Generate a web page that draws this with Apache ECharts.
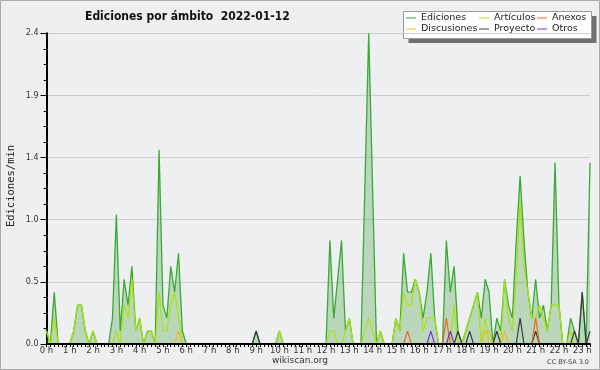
<!DOCTYPE html>
<html>
<head>
<meta charset="utf-8">
<script src="https://cdn.jsdelivr.net/npm/echarts@6/dist/echarts.min.js"></script>
<style>
html,body{margin:0;padding:0;background:#eeeff0;}
#main_chart{width:600px;height:370px;}
</style>
</head>
<body>
<div id="main_chart"></div>
<script>
// ediciones por minuto, tramos de 10 minutos (00:00 - 23:20)
var slotTimes = [];
for (var h = 0; h < 24; h++) {
    for (var m = 0; m < 60; m += 10) {
        if (slotTimes.length < 141) slotTimes.push(h + ':' + (m < 10 ? '0' + m : m));
    }
}
var hourLabels = ['0 h','1 h','2 h','3 h','4 h','5 h','6 h','7 h','8 h','9 h','10 h','11 h',
                  '12 h','13 h','14 h','15 h','16 h','17 h','18 h','19 h','20 h','21 h','22 h','23 h'];

var edicionesMin = [
    0.1,0,0.4,0,0,0,
    0,0.1,0.3,0.3,0.1,0,
    0.1,0,0,0,0,0.2,
    1.0,0.1,0.5,0.3,0.6,0.1,
    0.2,0,0.1,0.1,0,1.5,
    0.3,0.2,0.6,0.4,0.7,0.1,
    0,0,0,0,0,0,
    0,0,0,0,0,0,
    0,0,0,0,0,0,
    0.1,0,0,0,0,0,
    0.1,0,0,0,0,0,
    0,0,0,0,0,0,
    0,0.8,0.2,0.5,0.8,0.1,
    0.2,0,0,0,1.2,2.4,
    1.2,0,0.1,0,0,0,
    0.2,0.1,0.7,0.4,0.4,0.5,
    0.4,0.2,0.4,0.7,0.2,0,
    0,0.8,0.4,0.6,0.1,0,
    0.1,0.2,0.3,0.4,0.2,0.5,
    0.4,0,0.2,0.1,0.5,0.3,
    0.2,0.8,1.3,0.8,0.4,0.2,
    0.5,0.2,0.3,0.1,0.3,1.4,
    0.3,0,0,0.2,0.1,0,
    0.4,0,1.4
];
var articulosMin = [
    0.1,0,0.2,0,0,0,
    0,0.1,0.3,0.3,0.1,0,
    0.1,0,0,0,0,0,
    0.1,0,0.3,0.2,0.5,0.1,
    0.2,0,0.1,0.1,0,0.4,
    0.1,0.1,0.3,0.4,0.2,0,
    0,0,0,0,0,0,
    0,0,0,0,0,0,
    0,0,0,0,0,0,
    0,0,0,0,0,0,
    0.1,0,0,0,0,0,
    0,0,0,0,0,0,
    0,0.1,0.1,0,0,0.1,
    0.2,0,0,0,0.1,0.2,
    0.1,0,0.1,0,0,0,
    0.2,0.1,0.4,0.3,0.3,0.5,
    0.4,0.1,0.2,0.2,0.2,0,
    0,0,0,0.3,0,0,
    0.1,0.2,0.3,0.4,0,0.2,
    0,0,0,0,0.5,0.2,
    0.1,0.5,1.1,0.6,0.4,0.2,
    0.2,0.3,0.2,0.1,0.3,0.3,
    0.3,0,0,0.1,0,0,
    0,0,0
];
var anexosMin = [
    0,0,0,0,0,0, 0,0,0,0,0,0, 0,0,0,0,0,0, 0,0,0,0,0,0,
    0,0,0,0,0,0, 0,0,0,0,0,0, 0,0,0,0,0,0, 0,0,0,0,0,0,
    0,0,0,0,0,0, 0,0,0,0,0,0, 0,0,0,0,0,0, 0,0,0,0,0,0,
    0,0,0,0,0,0, 0,0,0,0,0,0, 0,0,0,0,0,0,
    0,0,0,0.1,0,0,
    0,0,0,0,0,0,
    0,0.2,0,0,0,0,
    0,0,0,0,0,0,
    0,0,0,0,0,0,
    0,0,0,0,0,0,
    0.2,0,0,0,0,0,
    0,0,0,0,0,0,
    0,0,0
];
var discusionesMin = [
    0,0,0,0,0,0, 0,0,0,0,0,0, 0,0,0,0,0,0, 0,0,0,0,0,0,
    0,0,0,0,0,0,
    0,0,0,0,0.1,0,
    0,0,0,0,0,0, 0,0,0,0,0,0, 0,0,0,0,0,0, 0,0,0,0,0,0,
    0,0,0,0,0,0, 0,0,0,0,0,0, 0,0,0,0,0,0, 0,0,0,0,0,0,
    0,0,0,0,0,0, 0,0,0,0,0,0, 0,0,0,0,0,0, 0,0,0,0,0,0,
    0,0,0,0,0,0.1,
    0.1,0,0,0,0.1,0,
    0,0,0,0,0,0,
    0,0,0,0,0,0,
    0,0,0
];
var proyectoMin = [
    0,0,0,0,0,0, 0,0,0,0,0,0, 0,0,0,0,0,0, 0,0,0,0,0,0,
    0,0,0,0,0,0, 0,0,0,0,0,0, 0,0,0,0,0,0, 0,0,0,0,0,0,
    0,0,0,0,0,0,
    0.1,0,0,0,0,0,
    0,0,0,0,0,0, 0,0,0,0,0,0, 0,0,0,0,0,0, 0,0,0,0,0,0,
    0,0,0,0,0,0, 0,0,0,0,0,0, 0,0,0,0,0,0,
    0,0,0,0,0.1,0,
    0,0.1,0,0,0,0,
    0,0,0.1,0,0,0,
    0,0,0.2,0,0,0,
    0.1,0,0,0,0,0,
    0,0,0,0,0.1,0,
    0.4,0,0.1
];
var otrosMin = [
    0,0,0,0,0,0, 0,0,0,0,0,0, 0,0,0,0,0,0, 0,0,0,0,0,0,
    0,0,0,0,0,0, 0,0,0,0,0,0, 0,0,0,0,0,0, 0,0,0,0,0,0,
    0,0,0,0,0,0, 0,0,0,0,0,0, 0,0,0,0,0,0, 0,0,0,0,0,0,
    0,0,0,0,0,0, 0,0,0,0,0,0, 0,0,0,0,0,0, 0,0,0,0,0,0,
    0,0,0,0.1,0,0,
    0,0,0.1,0,0,0,
    0,0,0,0,0,0, 0,0,0,0,0,0, 0,0,0,0,0,0, 0,0,0,0,0,0,
    0,0,0,0,0,0,
    0,0,0
];

var font = 'DejaVu Sans';

var lineSerie = function(name, data, color, width){
    return {
        name: name,
        type: 'line',
        data: data,
        color: color,
        symbol: 'none',
        silent: true,
        lineStyle: {width: width || 1.2, color: color},
        emphasis: {disabled: true}
    };
};

var legendBase = function(items, left){
    return {
        data: items,
        orient: 'vertical',
        left: left,
        top: 13,
        padding: 0,
        itemGap: 1,
        icon: 'rect',
        itemWidth: 10,
        itemHeight: 1,
        selectedMode: false,
        textStyle: {fontFamily: font, fontSize: 9.5, color: '#222', lineHeight: 10}
    };
};

var edSerie = lineSerie('Ediciones', edicionesMin, '#3aa935', 1.3);
edSerie.areaStyle = {color: 'rgba(60,160,60,0.42)'};

var chartOpt = {
    backgroundColor: '#eeeff0',
    animation: false,
    title: {
        text: 'Ediciones por ámbito  2022-01-12',
        left: 80,
        top: 6,
        textStyle: {fontFamily: '"DejaVu Sans Condensed", "DejaVu Sans"', fontSize: 12, fontWeight: 'bold', color: '#111'}
    },
    legend: [
        legendBase(['Ediciones', 'Discusiones'], 406),
        legendBase(['Artículos', 'Proyecto'], 479),
        legendBase(['Anexos', 'Otros'], 537)
    ],
    grid: {left: 46.5, right: 10, top: 33.3, bottom: 26},
    xAxis: {
        type: 'category',
        data: slotTimes,
        boundaryGap: false,
        z: 10,
        axisLine: {lineStyle: {color: '#000', width: 2}},
        axisTick: {interval: 0, length: 3, lineStyle: {color: '#000'}},
        axisLabel: {
            interval: function(i){ return i % 6 === 0; },
            formatter: function(v, i){ return hourLabels[i / 6]; },
            fontFamily: font, fontSize: 8.5, color: '#333', margin: 2
        },
        splitLine: {show: false}
    },
    yAxis: {
        type: 'value',
        min: 0,
        max: 2.4,
        interval: 0.48,
        axisLine: {show: true, lineStyle: {color: '#000', width: 2}},
        axisTick: {show: true, length: 6, lineStyle: {color: '#000'}},
        minorTick: {show: true, splitNumber: 4, length: 3, lineStyle: {color: '#000'}},
        axisLabel: {
            formatter: function(v){ return v.toFixed(1); },
            fontFamily: font, fontSize: 8, color: '#333', margin: 8
        },
        splitLine: {lineStyle: {color: '#cdcdcd'}}
    },
    graphic: [
        {type: 'rect', shape: {x: 0.5, y: 0.5, width: 599, height: 369}, style: {fill: null, stroke: '#aaa', lineWidth: 1}},
        {type: 'rect', shape: {x: 408.5, y: 16, width: 188, height: 27}, style: {fill: '#707070'}},
        {type: 'rect', shape: {x: 403.5, y: 11.5, width: 188, height: 27}, style: {fill: '#fff', stroke: '#999', lineWidth: 1}},
        {type: 'text', x: 11, y: 186, rotation: Math.PI / 2,
         style: {text: 'Ediciones/min', align: 'center', verticalAlign: 'middle', fill: '#222',
                 font: '10.5px "DejaVu Sans Mono"'}},
        {type: 'text', x: 300, y: 361,
         style: {text: 'wikiscan.org', align: 'center', verticalAlign: 'middle', fill: '#333',
                 font: '9px "DejaVu Sans"'}},
        {type: 'text', x: 589, y: 362.5,
         style: {text: 'CC BY-SA 3.0', align: 'right', verticalAlign: 'middle', fill: '#444',
                 font: '6.5px "DejaVu Sans"'}}
    ],
    series: [
        edSerie,
        lineSerie('Artículos', articulosMin, '#a8e40c'),
        lineSerie('Discusiones', discusionesMin, '#f5b81c'),
        lineSerie('Proyecto', proyectoMin, '#3a3a3a'),
        lineSerie('Anexos', anexosMin, '#f26522'),
        lineSerie('Otros', otrosMin, '#7b2fe0')
    ]
};

var main_chart = echarts.init(document.getElementById('main_chart'));
main_chart.setOption(chartOpt);
</script>
</body>
</html>
